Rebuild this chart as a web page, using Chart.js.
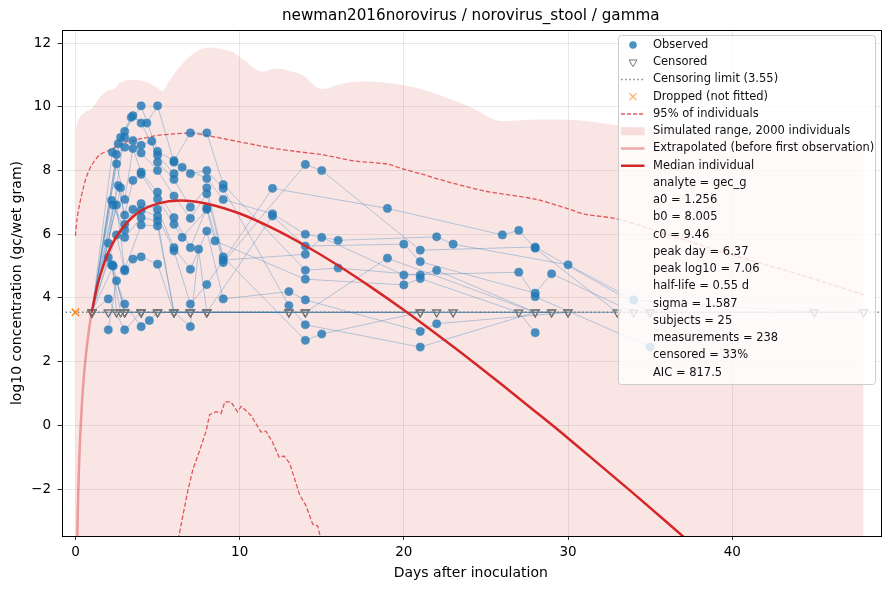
<!DOCTYPE html>
<html>
<head>
<meta charset="utf-8">
<script src="https://cdn.jsdelivr.net/npm/chart.js@4.4.1/dist/chart.umd.min.js"></script>
<style>
  html, body { margin: 0; padding: 0; background: #fff; }
  #wrap { width: 890px; height: 590px; }
</style>
</head>
<body>
<div id="wrap"><canvas id="fit" width="890" height="590"></canvas></div>
<script>
// axis limits and ticks
const xMin = -0.85, xMax = 49.0;
const yMin = -3.47, yMax = 12.41;
const xTicks = [0, 10, 20, 30, 40];
const yTicks = [-2, 0, 2, 4, 6, 8, 10, 12];
const censorLimit = 3.55;

// measurements per subject (null = below censoring limit)
const subjectDays = [
  [1, 2, 3, 4, 5, 6, 7, 8, 9, 14, 16, 21, 22, 28, 29],
  [1, 2.25, 3.4, 4.35, 5, 6, 7, 8, 9, 13, 14, 21, 28],
  [1, 2.6, 3.5, 4, 5, 6, 6.5, 8, 9, 12, 14, 16, 22, 23, 30, 34, 45, 48],
  [1, 2.75, 3, 4, 4.65, 5, 6, 7, 8, 9, 14, 15, 21, 22, 23, 29],
  [1, 2.5, 3, 3.5, 4, 5, 6, 7, 8, 9, 14, 15, 20, 27, 28, 35],
  [1, 2.5, 3, 3.5, 4, 5, 6, 7, 8, 9, 14, 15, 21, 28, 35],
  [1, 2.6, 3, 3.5, 4, 5, 6, 6.5, 8, 8.5, 14, 20, 21, 27, 28],
  [1, 2.75, 3, 4, 5, 6, 7, 8, 9, 13, 14, 21, 22, 30],
  [1, 2.2, 3, 3.5, 4, 5, 6, 7, 8, 12, 19, 26, 27, 28, 33],
  [1, 2.3, 3, 4, 5, 6, 7, 7.5, 8, 12, 14, 20, 21, 28, 29, 34],
  [1, 2.5, 3, 4, 5, 6, 7, 8, 13, 14, 21],
  [1, 2.5, 3, 3.5, 4, 5, 6, 7, 8, 14, 19, 28, 30, 33],
  [1, 2, 3, 4, 4.5, 5, 6, 7, 8, 13, 22],
  [1, 2, 3, 4, 5, 6, 7, 8, 14, 21, 27, 34, 35, 45, 48],
  [2, 2.5, 3, 4, 5, 7, 14, 23, 29],
  [2.2, 2.75, 3, 4, 5, 8, 13, 21, 30],
  [2.25, 2.5, 3, 4, 13],
  [1, 2.3, 3, 4, 5, 6, 7],
  [1, 2, 2.5, 3],
  [1, 2, 2.75, 4]
];
const subjectLogs = [
  [null, 5.72, 9.23, 10.03, 8.6, 8.31, 9.18, 9.18, 7.56, 4.87, 4.94, 4.72, 4.87, null, null],
  [null, 8.57, 9.67, 9.49, 10.03, 8.26, 7.9, 8.0, 7.44, 3.76, 3.16, 2.46, null],
  [null, 8.84, 9.72, 9.49, 8.48, 7.9, 8.1, 7.75, 7.09, 6.64, 6.0, 5.81, 5.92, 5.69, 5.04, 3.94, null, null],
  [null, 9.04, 9.04, 8.79, 8.92, 8.26, 7.72, 6.85, 7.46, 5.29, 2.67, 2.87, null, null, null, null],
  [null, 8.5, 8.73, 8.94, 8.55, 8.0, 7.2, 6.5, 7.27, 5.19, 5.37, 5.9, 4.72, 4.81, 4.04, 2.46],
  [null, 8.21, 7.09, 8.69, 7.95, 7.32, 6.52, 5.58, 6.83, 5.11, 8.19, 8.0, 5.5, 5.6, null],
  [null, 7.53, 6.6, 7.69, 7.88, 7.11, 6.31, 5.9, 6.78, 5.79, 4.59, 4.41, 4.61, null, 2.91],
  [null, 7.46, 6.31, 6.96, 6.78, 5.58, 4.9, 6.1, 3.97, 4.2, 3.94, 2.95, 3.19, null],
  [null, 7.06, 6.13, 6.78, 6.75, 6.57, 5.48, 3.81, 4.42, 7.44, 6.81, 5.98, 6.12, 5.56, null],
  [null, 6.92, 5.9, 6.52, 6.42, null, 3.1, 5.53, null, 6.57, 5.63, 5.69, 5.14, 4.15, 4.76, null],
  [null, 6.92, 4.9, 6.29, 6.26, null, null, null, null, null, null],
  [null, 5.98, 4.85, 5.22, 5.29, 5.06, null, null, null, null, 5.25, null, null, null],
  [null, 5.27, 3.81, 3.1, 3.29, null, null, null, null, null, null],
  [null, 3.97, 3.0, null, null, null, null, null, null, null, null, null, null, null, null],
  [3.0, 4.54, null, null, null, null, null, null, null],
  [5.03, null, null, null, null, null, null, null, null],
  [5.04, null, null, null, null],
  [null, 5.0, null, null, null, null, null],
  [null, null, null, null],
  [null, null, null, null]
];
const droppedDays = [0];

// median individual, fitted curve
const medianDays = [1, 1.25, 1.5, 2, 2.5, 3, 3.5, 4, 5, 6.37, 8, 10, 12, 14, 16, 18, 20, 22, 24, 26, 28, 30, 32, 34, 36, 38];
const medianLogs = [3.58, 4.21, 4.70, 5.43, 5.93, 6.28, 6.55, 6.74, 6.96, 7.06, 6.96, 6.65, 6.19, 5.64, 5.02, 4.34, 3.62, 2.86, 2.08, 1.27, 0.44, -0.40, -1.27, -2.14, -3.03, -3.93];
// extrapolated part before first observation
const extrapDays = [0.1, 0.12, 0.15, 0.2, 0.25, 0.3, 0.4, 0.5, 0.6, 0.7, 0.8, 0.9, 1.0];
const extrapLogs = [-3.89, -3.27, -2.52, -1.55, -0.81, -0.2, 0.735, 1.45, 2.03, 2.5, 2.91, 3.27, 3.58];

// 95% band of simulated individuals
const upperDays = [0, 0.1, 0.25, 0.45, 0.65, 1.0, 1.5, 2, 2.5, 3, 4, 5, 6, 7, 8, 9, 10, 11, 12, 13.4, 15, 17, 19, 20, 21, 23, 25, 28, 30, 31, 33, 36, 40, 44, 48];
const upperLogs = [5.95, 6.5, 6.94, 7.4, 7.77, 8.18, 8.5, 8.62, 8.75, 8.88, 9.0, 9.1, 9.15, 9.17, 9.1, 9.0, 8.9, 8.8, 8.7, 8.6, 8.5, 8.3, 8.2, 8.04, 7.9, 7.6, 7.35, 7.1, 6.8, 6.63, 6.48, 6.0, 5.35, 4.75, 4.1];
const lowerDays = [6.0, 6.3, 6.85, 7.17, 7.57, 7.97, 8.17, 8.57, 8.87, 9.1, 9.47, 9.87, 10.1, 10.7, 11.3, 11.6, 12.0, 12.4, 12.7, 13.05, 13.65, 14.05, 14.45, 14.75, 14.9, 15.2];
const lowerLogs = [-4.2, -3.47, -2.03, -1.35, -0.78, -0.15, 0.34, 0.43, 0.38, 0.74, 0.74, 0.43, 0.6, 0.31, -0.21, -0.18, -0.52, -1.0, -0.96, -1.19, -2.17, -2.53, -3.1, -3.15, -3.47, -4.0];

// top of the simulated range (2000 individuals)
const simDays = [0, 0.1, 0.3, 0.63, 1.0, 1.44, 2.05, 2.36, 2.66, 3.45, 4.28, 4.9, 5.3, 5.7, 6.11, 6.8, 7.53, 8.32, 9.0, 9.54, 10.3, 11.38, 12.2, 13.19, 13.8, 15.0, 16.4, 17.7, 19.9, 21.9, 24.0, 26.0, 28.4, 30.6, 33.0, 36, 40, 44, 48];
const simTop = [9.3, 9.5, 9.7, 9.85, 9.95, 10.27, 10.53, 10.56, 10.74, 10.84, 10.79, 10.62, 10.5, 10.8, 11.1, 11.5, 11.78, 11.85, 11.8, 11.73, 11.45, 11.1, 11.2, 11.1, 11.0, 10.56, 10.74, 10.79, 10.68, 10.42, 10.0, 9.55, 9.6, 9.58, 9.42, 9.3, 9.15, 9.0, 8.85];

const legendItems = [
  ['circle', 'Observed'],
  ['triangle', 'Censored'],
  ['dotted', 'Censoring limit (3.55)'],
  ['cross', 'Dropped (not fitted)'],
  ['dashed', '95% of individuals'],
  ['patch', 'Simulated range, 2000 individuals'],
  ['pale', 'Extrapolated (before first observation)'],
  ['solid', 'Median individual']
];
const fitStats = [
  'analyte = gec_g', 'a0 = 1.256', 'b0 = 8.005', 'c0 = 9.46', 'peak day = 6.37',
  'peak log10 = 7.06', 'half-life = 0.55 d', 'sigma = 1.587', 'subjects = 25',
  'measurements = 238', 'censored = 33%', 'AIC = 817.5'
];

const RED = '#d62728';
const BLUE = 'rgba(31,119,180,0.8)';
const FONT = '"DejaVu Sans", "Liberation Sans", sans-serif';

const pts = (xs, ys) => xs.map((x, i) => ({ x: x, y: ys[i] }));
const minusFmt = v => (v < 0 ? '\u2212' + Math.abs(v) : String(v));

const observed = [];
const censored = [];
subjectDays.forEach((days, i) => {
  days.forEach((d, j) => {
    const v = subjectLogs[i][j];
    if (v === null) censored.push({ x: d, y: censorLimit });
    else observed.push({ x: d, y: v });
  });
});

const subjectSets = subjectDays.map((days, i) => ({
  data: days.map((d, j) => ({ x: d, y: subjectLogs[i][j] === null ? censorLimit : subjectLogs[i][j] })),
  borderColor: 'rgba(31,119,180,0.32)',
  borderWidth: 1,
  pointRadius: 0,
  fill: false,
  order: 7
}));

// legend drawn inside the plot, top right
const insideLegend = {
  id: 'insideLegend',
  afterDraw(chart) {
    const { ctx, chartArea: a } = chart;
    const w = 257, rowH = 17.25;
    const rows = legendItems.length + fitStats.length;
    const h = rows * rowH + 4;
    const x0 = a.right - w - 5, y0 = a.top + 5;
    ctx.save();
    ctx.beginPath();
    ctx.roundRect(x0 + 0.5, y0 + 0.5, w, h, 3);
    ctx.fillStyle = 'rgba(255,255,255,0.8)';
    ctx.fill();
    ctx.strokeStyle = '#cccccc';
    ctx.lineWidth = 1;
    ctx.stroke();

    const sx0 = x0 + 3, sx1 = x0 + 26.5, cx = x0 + 15;
    const line = (color, width, dash, y) => {
      ctx.beginPath();
      ctx.setLineDash(dash);
      ctx.strokeStyle = color;
      ctx.lineWidth = width;
      ctx.moveTo(sx0, y);
      ctx.lineTo(sx1, y);
      ctx.stroke();
      ctx.setLineDash([]);
    };
    ctx.font = '11.5px ' + FONT;
    ctx.textBaseline = 'middle';
    legendItems.forEach(([kind, label], i) => {
      const y = y0 + 10 + i * rowH;
      if (kind === 'circle') {
        ctx.beginPath();
        ctx.arc(cx, y, 3.8, 0, Math.PI * 2);
        ctx.fillStyle = BLUE;
        ctx.fill();
      } else if (kind === 'triangle') {
        ctx.beginPath();
        ctx.moveTo(cx - 4, y - 2.3);
        ctx.lineTo(cx + 4, y - 2.3);
        ctx.lineTo(cx, y + 4.5);
        ctx.closePath();
        ctx.strokeStyle = '#777';
        ctx.lineWidth = 1;
        ctx.stroke();
      } else if (kind === 'dotted') {
        line('rgba(110,110,110,0.85)', 1.5, [1.5, 2.6], y);
      } else if (kind === 'cross') {
        ctx.beginPath();
        ctx.moveTo(cx - 3.5, y - 3.5); ctx.lineTo(cx + 3.5, y + 3.5);
        ctx.moveTo(cx - 3.5, y + 3.5); ctx.lineTo(cx + 3.5, y - 3.5);
        ctx.strokeStyle = 'rgba(255,127,14,0.6)';
        ctx.lineWidth = 1.3;
        ctx.stroke();
      } else if (kind === 'dashed') {
        line('rgba(214,39,40,0.75)', 1.4, [4, 2], y);
      } else if (kind === 'patch') {
        ctx.fillStyle = 'rgba(214,39,40,0.14)';
        ctx.fillRect(sx0, y - 4, sx1 - sx0, 8);
      } else if (kind === 'pale') {
        line('rgba(214,39,40,0.4)', 2.5, [], y);
      } else {
        line(RED, 2.5, [], y);
      }
      ctx.fillStyle = '#111';
      ctx.fillText(label, x0 + 35, y);
    });
    fitStats.forEach((label, i) => {
      const y = y0 + 10 + (legendItems.length + i) * rowH;
      ctx.fillStyle = '#111';
      ctx.fillText(label, x0 + 35, y);
    });
    ctx.restore();
  }
};

// axes frame and title over the plot area
const frameAndTitle = {
  id: 'frameAndTitle',
  afterDatasetsDraw(chart) {
    const { ctx, chartArea: a } = chart;
    ctx.save();
    ctx.strokeStyle = '#000';
    ctx.lineWidth = 1;
    ctx.strokeRect(Math.round(a.left) + 0.5, Math.round(a.top) + 0.5,
      Math.round(a.right - a.left), Math.round(a.bottom - a.top));
    ctx.fillStyle = '#000';
    ctx.font = '15.2px ' + FONT;
    ctx.textAlign = 'center';
    ctx.textBaseline = 'middle';
    ctx.fillText('newman2016norovirus / norovirus_stool / gamma', (a.left + a.right) / 2, 16.5);
    ctx.restore();
  }
};

Chart.defaults.font.family = FONT;
Chart.defaults.color = '#000';

new Chart(document.getElementById('fit'), {
  type: 'line',
  data: {
    datasets: [
      {
        label: 'Median individual',
        data: pts(medianDays, medianLogs),
        borderColor: RED, borderWidth: 2.5, pointRadius: 0,
        cubicInterpolationMode: 'monotone', fill: false, order: 1
      },
      {
        label: 'Extrapolated (before first observation)',
        data: pts(extrapDays, extrapLogs),
        borderColor: 'rgba(214,39,40,0.4)', borderWidth: 2.5, pointRadius: 0,
        cubicInterpolationMode: 'monotone', fill: false, order: 2
      },
      {
        label: 'Dropped (not fitted)',
        data: droppedDays.map(d => ({ x: d, y: censorLimit })),
        showLine: false, pointStyle: 'crossRot', pointRadius: 5.2,
        borderColor: 'rgba(255,127,14,0.9)', pointBorderWidth: 1.6, order: 3
      },
      {
        label: 'Censored',
        data: censored,
        showLine: false, pointStyle: 'triangle', pointRotation: 180, pointRadius: 4.7,
        borderColor: '#777', backgroundColor: 'rgba(255,255,255,0)', pointBorderWidth: 1.1, order: 4
      },
      {
        label: 'Observed',
        data: observed,
        showLine: false, pointStyle: 'circle', pointRadius: 4.1,
        backgroundColor: BLUE, borderColor: BLUE, pointBorderWidth: 0.5, order: 5
      },
      {
        label: 'Censoring limit (3.55)',
        data: [{ x: xMin, y: censorLimit }, { x: xMax, y: censorLimit }],
        borderColor: 'rgba(110,110,110,0.85)', borderWidth: 1.5, borderDash: [1.5, 2.6],
        pointRadius: 0, fill: false, order: 6
      },
      ...subjectSets,
      {
        label: '95% of individuals',
        data: pts(upperDays, upperLogs),
        borderColor: 'rgba(214,39,40,0.75)', borderWidth: 1.3, borderDash: [4.5, 2.2],
        pointRadius: 0, fill: false, tension: 0.3, order: 8
      },
      {
        label: '95% lower',
        data: pts(lowerDays, lowerLogs),
        borderColor: 'rgba(214,39,40,0.75)', borderWidth: 1.3, borderDash: [4.5, 2.2],
        pointRadius: 0, fill: false, order: 8
      },
      {
        label: 'Simulated range, 2000 individuals',
        data: pts(simDays, simTop),
        borderWidth: 0, borderColor: 'rgba(0,0,0,0)', pointRadius: 0,
        backgroundColor: 'rgba(214,39,40,0.12)', fill: 'start',
        cubicInterpolationMode: 'monotone', order: 9
      }
    ]
  },
  options: {
    responsive: false,
    animation: false,
    layout: { padding: { top: 30, right: 10, left: 0, bottom: 0 } },
    plugins: { legend: { display: false }, tooltip: { enabled: false }, title: { display: false } },
    scales: {
      x: {
        type: 'linear', min: xMin, max: xMax,
        afterBuildTicks: s => { s.ticks = xTicks.map(v => ({ value: v })); },
        afterFit: s => { s.height = 54; },
        grid: { color: 'rgba(0,0,0,0.11)', lineWidth: 0.8, tickColor: '#000', tickLength: 4 },
        border: { display: false },
        ticks: { color: '#000', padding: 4, font: { size: 13.5 }, maxRotation: 0, callback: minusFmt },
        title: { display: true, text: 'Days after inoculation', color: '#000', font: { size: 14 }, padding: 8.5 }
      },
      y: {
        type: 'linear', min: yMin, max: yMax,
        afterBuildTicks: s => { s.ticks = yTicks.map(v => ({ value: v })); },
        afterFit: s => { s.width = 61.5; },
        grid: { color: 'rgba(0,0,0,0.11)', lineWidth: 0.8, tickColor: '#000', tickLength: 4 },
        border: { display: false },
        ticks: { color: '#000', padding: 6.5, font: { size: 13.5 }, callback: minusFmt },
        title: { display: true, text: 'log10 concentration (gc/wet gram)', color: '#000', font: { size: 14 }, padding: 8.5 }
      }
    }
  },
  plugins: [frameAndTitle, insideLegend]
});
</script>
</body>
</html>
